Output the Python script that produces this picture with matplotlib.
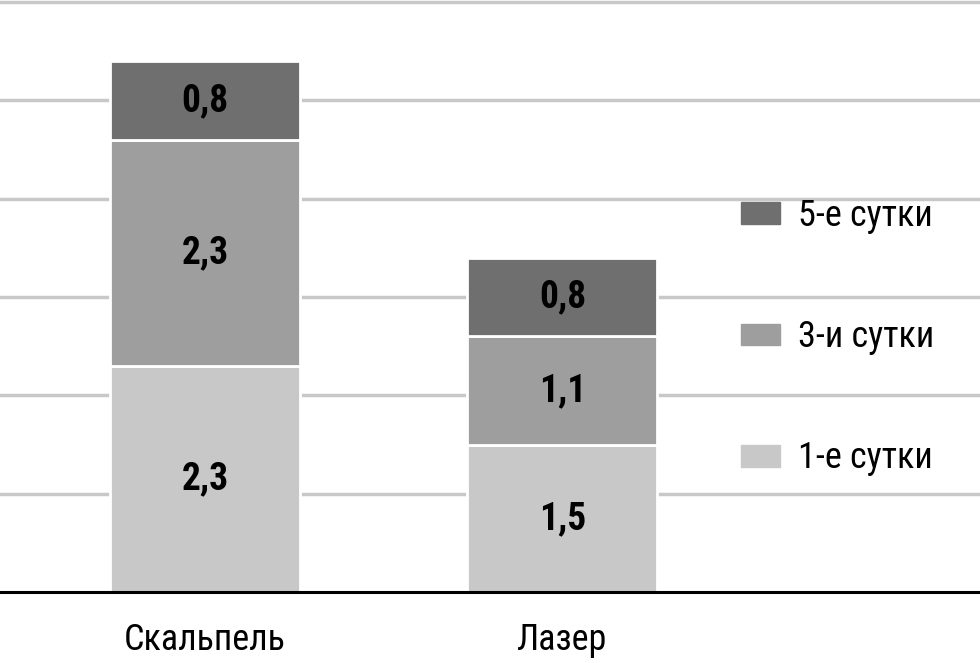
import matplotlib.pyplot as plt
from matplotlib.patches import Patch

categories = ['Скальпель', 'Лазер']
day1 = [2.3, 1.5]
day3 = [2.3, 1.1]
day5 = [0.8, 0.8]
series_names = ['1-е сутки', '3-и сутки', '5-е сутки']
colors = ['#c8c8c8', '#9e9e9e', '#6f6f6f']

plt.rcParams['font.family'] = ['Roboto Condensed', 'DejaVu Sans']

fig = plt.figure(figsize=(9.8, 6.63), dpi=100)
ax = fig.add_axes([0, 0.107, 1, 0.893])

x = range(len(categories))
bottoms = [0, 0]
for vals, name, col in zip([day1, day3, day5], series_names, colors):
    bars = ax.bar(x, vals, width=0.531, bottom=bottoms, color=col,
                  edgecolor='white', linewidth=2, label=name, zorder=3)
    ax.bar_label(bars, labels=[str(v).replace('.', ',') for v in vals],
                 label_type='center', fontsize=27, fontweight='bold')
    bottoms = [b + v for b, v in zip(bottoms, vals)]

ax.set_ylim(0, 6.02)
ax.set_xlim(-0.573, 2.168)
ax.set_yticks(range(1, 7))
ax.grid(axis='y', color='#c8c8c8', linewidth=2.5, zorder=0)
ax.set_axisbelow(True)
ax.tick_params(left=False, labelleft=False, bottom=False, labelsize=26, pad=18)
ax.set_xticks(list(x))
ax.set_xticklabels(categories)
for s in ['top', 'right', 'left']:
    ax.spines[s].set_visible(False)
ax.spines['bottom'].set_linewidth(2.2)
ax.spines['bottom'].set_zorder(4)

handles = [Patch(color=c) for c in colors][::-1]
ax.legend(handles, series_names[::-1], loc='upper left', bbox_to_anchor=(0.741, 0.69),
          frameon=False, fontsize=26, handlelength=1.1, handleheight=0.55,
          labelspacing=2.36, handletextpad=0.5, borderaxespad=0)

fig.savefig('out.png', dpi=100)
